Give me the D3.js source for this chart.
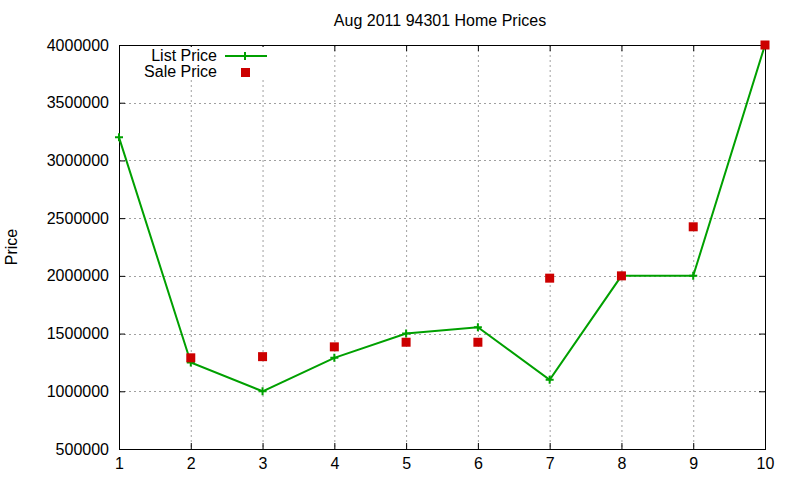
<!DOCTYPE html>
<html>
<head>
<meta charset="utf-8">
<script src="https://cdn.jsdelivr.net/npm/d3@7"></script>
<style>
  body { margin: 0; background: #fff; }
  text { font-family: "Liberation Sans", Arial, sans-serif; fill: #000; }
</style>
</head>
<body>
<svg id="chart" width="800" height="480"></svg>
<script>
// data
var months = [1, 2, 3, 4, 5, 6, 7, 8, 9, 10];
var listPrice = [3200000, 1250000, 1000000, 1290000, 1500000, 1555000, 1100000, 2000000, 2000000, 4000000];
var salePrice = [null, 1290000, 1300000, 1385000, 1425000, 1425000, 1980000, 2000000, 2425000, 4000000];
var yTicks = [500000, 1000000, 1500000, 2000000, 2500000, 3000000, 3500000, 4000000];
var xTicks = [1, 2, 3, 4, 5, 6, 7, 8, 9, 10];

var svg = d3.select("#chart");
var m = {left: 119, right: 765, top: 45, bottom: 449};
var fs = "16px";

var x = d3.scaleLinear().domain([1, 10]).range([m.left, m.right]);
var y = d3.scaleLinear().domain([500000, 4000000]).range([m.bottom, m.top]);

// grid
var grid = svg.append("g").attr("stroke", "#a0a0a0").attr("stroke-dasharray", "2,3").attr("stroke-width", 1);
grid.selectAll(".gx").data(xTicks.slice(1, -1)).enter().append("line")
  .attr("x1", d => x(d) + 0.5).attr("x2", d => x(d) + 0.5)
  .attr("y1", m.top).attr("y2", m.bottom);
grid.selectAll(".gy").data(yTicks.slice(1, -1)).enter().append("line")
  .attr("x1", m.left).attr("x2", m.right)
  .attr("y1", d => Math.round(y(d)) + 0.5).attr("y2", d => Math.round(y(d)) + 0.5);

// axes: ticks inward, mirrored
svg.append("g").attr("transform", "translate(0," + m.bottom + ")")
  .call(d3.axisBottom(x).tickValues(xTicks).tickSize(-6).tickPadding(9).tickFormat(d3.format("d")));
svg.append("g").attr("transform", "translate(0," + m.top + ")")
  .call(d3.axisTop(x).tickValues(xTicks).tickSize(-6).tickFormat(""));
svg.append("g").attr("transform", "translate(" + m.left + ",0)")
  .call(d3.axisLeft(y).tickValues(yTicks).tickSize(-6).tickPadding(10).tickFormat(d3.format("d")));
svg.append("g").attr("transform", "translate(" + m.right + ",0)")
  .call(d3.axisRight(y).tickValues(yTicks).tickSize(-6).tickFormat(""));
svg.selectAll(".domain").remove();
svg.selectAll(".tick line").attr("stroke", "#000");
svg.selectAll(".tick text").style("font-size", fs).style("font-family", "Liberation Sans, Arial, sans-serif");

svg.append("rect").attr("x", m.left + 0.5).attr("y", m.top + 0.5)
  .attr("width", m.right - m.left).attr("height", m.bottom - m.top)
  .attr("fill", "none").attr("stroke", "#000");

// legend background covers grid
svg.append("rect").attr("x", 140).attr("y", m.top + 2).attr("width", 135).attr("height", 32).attr("fill", "#fff");

// list price line
var green = "#00a000", red = "#cc0000";
var line = d3.line().x((d, i) => x(months[i])).y(d => y(d));
svg.append("path").datum(listPrice).attr("d", line)
  .attr("fill", "none").attr("stroke", green).attr("stroke-width", 2);
var plus = "M-4,0H4M0,-4V4";
svg.selectAll(".lp").data(listPrice).enter().append("path")
  .attr("transform", (d, i) => "translate(" + x(months[i]) + "," + y(d) + ")")
  .attr("d", plus).attr("stroke", green).attr("stroke-width", 2);

// sale price points
svg.selectAll(".sp").data(salePrice.map((v, i) => [months[i], v]).filter(d => d[1] != null))
  .enter().append("rect")
  .attr("x", d => x(d[0]) - 4.5).attr("y", d => y(d[1]) - 4.5)
  .attr("width", 9).attr("height", 9).attr("fill", red);

// legend
svg.append("text").attr("x", 217).attr("y", 61).attr("text-anchor", "end").style("font-size", fs).text("List Price");
svg.append("line").attr("x1", 225).attr("x2", 267).attr("y1", 56).attr("y2", 56).attr("stroke", green).attr("stroke-width", 2);
svg.append("path").attr("transform", "translate(245,56)").attr("d", plus).attr("stroke", green).attr("stroke-width", 2);
svg.append("text").attr("x", 217).attr("y", 77).attr("text-anchor", "end").style("font-size", fs).text("Sale Price");
svg.append("rect").attr("x", 241).attr("y", 68).attr("width", 9).attr("height", 9).attr("fill", red);

// title + y label
svg.append("text").attr("x", 440).attr("y", 26).attr("text-anchor", "middle").style("font-size", fs).text("Aug 2011 94301 Home Prices");
svg.append("text").attr("transform", "translate(17,247) rotate(-90)").attr("text-anchor", "middle").style("font-size", fs).text("Price");
</script>
</body>
</html>
